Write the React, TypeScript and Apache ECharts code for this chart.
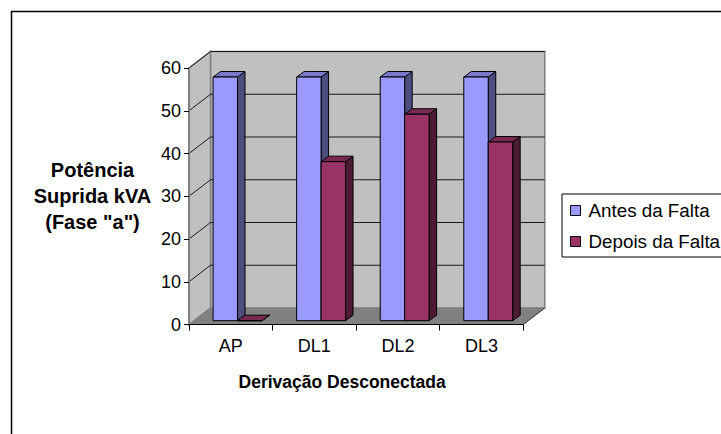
import React, { useEffect, useRef } from "react";
import * as echarts from "echarts";

const categories = ["AP", "DL1", "DL2", "DL3"];
const antesValues = [57, 57, 57, 57];
const depoisValues = [0, 37.2, 48.3, 41.8];
const gridTicks = [10, 20, 30, 40, 50, 60];
const seriesNames = ["Antes da Falta", "Depois da Falta"];

const WALL_DX = 21.5;
const WALL_DY = 16.5;
const BAR_DX = 7.5;
const BAR_DY = 5.5;
const BASE_DY = 3.8;

const poly = (points: number[][], fill: string, stroke = "#000", lineWidth = 1, z2 = 0) => ({
  type: "polygon",
  z2,
  shape: { points },
  style: { fill, stroke, lineWidth },
});

const barRender = (seriesIndex: number, front: string, top: string, side: string) => (params: any, api: any) => {
  const idx = api.value(0);
  const val = api.value(1);
  const band = api.size([1, 0])[0];
  const center = api.coord([idx, 0]);
  const yTop = api.coord([idx, val])[1] - BASE_DY;
  const yBase = center[1] - BASE_DY;
  const w = band * 0.2925;
  const left = center[0] - band / 2 + band * 0.288 + seriesIndex * w;
  const right = left + w;
  return {
    type: "group",
    children: [
      poly([[right, yBase], [right + BAR_DX, yBase - BAR_DY], [right + BAR_DX, yTop - BAR_DY], [right, yTop]], side),
      poly([[left, yTop], [left + BAR_DX, yTop - BAR_DY], [right + BAR_DX, yTop - BAR_DY], [right, yTop]], top),
      poly([[left, yBase], [right, yBase], [right, yTop], [left, yTop]], front),
    ],
  };
};

export default function App() {
  const ref = useRef<HTMLDivElement>(null);
  useEffect(() => {
    const chart = echarts.init(ref.current!, undefined, { renderer: "svg" });
    chart.setOption({
      animation: false,
      backgroundColor: "#fff",
      textStyle: { fontFamily: "Liberation Sans" },
      graphic: [
        {
          type: "polyline",
          silent: true,
          shape: { points: [[11.5, 440], [11.5, 11.5], [730, 11.5]] },
          style: { stroke: "#000", lineWidth: 1.5, fill: "none" },
        },
      ],
      grid: { left: 189, top: 68, width: 334.3, height: 256.5 },
      legend: {
        data: seriesNames,
        orient: "vertical",
        left: 562,
        top: 194,
        padding: [7, 8, 6, 8],
        itemGap: 12,
        itemWidth: 10,
        itemHeight: 10,
        icon: "rect",
        borderColor: "#000",
        borderWidth: 1,
        backgroundColor: "#fff",
        itemStyle: { borderColor: "#000", borderWidth: 1 },
        textStyle: { fontSize: 18.8, color: "#000", fontFamily: "Liberation Sans", padding: [0, 0, 0, 3] },
      },
      xAxis: {
        type: "category",
        data: categories,
        z: 5,
        name: "Derivação Desconectada",
        nameLocation: "middle",
        nameGap: 48,
        nameTextStyle: { fontSize: 17.5, fontWeight: "bold", color: "#000", padding: [0, 28, 0, 0] },
        axisLine: { show: true, lineStyle: { color: "#000", width: 1 } },
        axisTick: { show: true, alignWithLabel: false, interval: 0, length: 6, lineStyle: { color: "#000", width: 1 } },
        axisLabel: { fontSize: 18, color: "#000", margin: 12 },
      },
      yAxis: {
        type: "value",
        min: 0,
        max: 60,
        interval: 10,
        z: 5,
        name: 'Potência\nSuprida kVA\n(Fase "a")',
        nameLocation: "middle",
        nameRotate: 0,
        nameGap: 96.5,
        nameTextStyle: {
          fontSize: 20,
          fontWeight: "bold",
          color: "#000",
          lineHeight: 26,
          align: "center",
          padding: [3, 0, 0, 0],
        },
        axisLine: { show: true, lineStyle: { color: "#808080", width: 2 } },
        axisTick: { show: true, length: 5, lineStyle: { color: "#000" } },
        axisLabel: { fontSize: 18, color: "#000", margin: 8 },
        splitLine: { show: false },
      },
      series: [
        {
          type: "custom",
          name: "walls",
          z: 2,
          silent: true,
          data: [[0, 0]],
          encode: { x: 0, y: 1 },
          renderItem: (params: any) => {
            const { x, y, width, height } = params.coordSys;
            const b = y + height;
            const r = x + width;
            return {
              type: "group",
              children: [
                poly([[x + WALL_DX, y - WALL_DY], [r + WALL_DX, y - WALL_DY], [r + WALL_DX, b - WALL_DY], [x + WALL_DX, b - WALL_DY]], "#c0c0c0", "#808080", 1.5),
                poly([[x, y], [x + WALL_DX, y - WALL_DY], [x + WALL_DX, b - WALL_DY], [x, b]], "#c0c0c0", "#808080", 1.5),
                poly([[x, b], [x + WALL_DX, b - WALL_DY], [r + WALL_DX, b - WALL_DY], [r, b]], "#808080", "#808080", 1),
                {
                  type: "line",
                  shape: { x1: r, y1: b, x2: r + WALL_DX, y2: b - WALL_DY },
                  style: { stroke: "#404040", lineWidth: 1 },
                },
              ],
            };
          },
        },
        {
          type: "custom",
          name: "grid",
          z: 3,
          silent: true,
          data: gridTicks.map((v) => [0, v]),
          encode: { x: 0, y: 1 },
          renderItem: (params: any, api: any) => {
            const { x, width } = params.coordSys;
            const yy = api.coord([0, api.value(1)])[1];
            return {
              type: "polyline",
              shape: {
                points: [[x, yy], [x + WALL_DX, yy - WALL_DY], [x + width + WALL_DX, yy - WALL_DY]],
              },
              style: { stroke: "#1a1a1a", lineWidth: 1, fill: "none" },
            };
          },
        },
        {
          type: "custom",
          name: seriesNames[0],
          z: 4,
          itemStyle: { color: "#9999ff" },
          data: antesValues.map((v, i) => [i, v]),
          encode: { x: 0, y: 1 },
          renderItem: barRender(0, "#9999ff", "#7a7acc", "#4d4d80"),
        },
        {
          type: "custom",
          name: seriesNames[1],
          z: 4,
          itemStyle: { color: "#993366" },
          data: depoisValues.map((v, i) => [i, v]),
          encode: { x: 0, y: 1 },
          renderItem: barRender(1, "#993366", "#7a2952", "#4d1a33"),
        },
      ],
    });
    return () => chart.dispose();
  }, []);
  return <div ref={ref} style={{ position: "fixed", left: 0, top: 0, width: 721, height: 434 }} />;
}
